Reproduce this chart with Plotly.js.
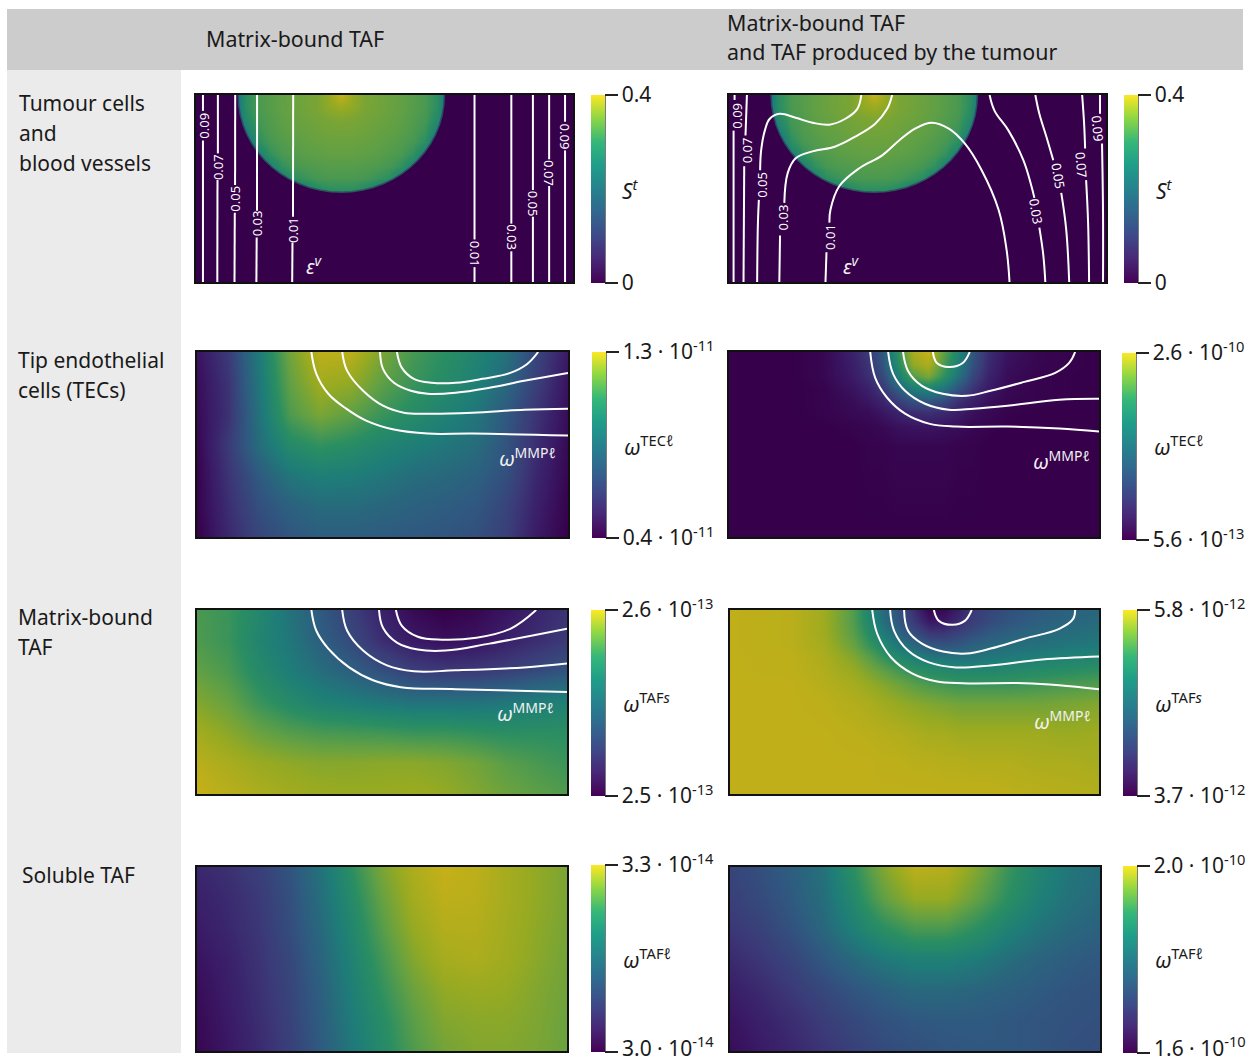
<!DOCTYPE html>
<html><head><meta charset="utf-8">
<script src="https://cdn.plot.ly/plotly-3.0.0.min.js"></script>
<style>html,body{margin:0;padding:0;background:#fff}#chart{width:1257px;height:1063px}</style>
</head><body><div id="chart"></div>
<script>
// ---------- field values (position on the colour scale, 0-100) ----------
const tumourX = [2,14,26,38,50,62,74,86,98,110,122,134,146,158,170,182,194,206,218,230,242,254,266,278,290,302,314,326,338,350,362,374];
const tumourY = [0,12,24,36,48,60,72,84,96,108,190];
const tumourZ = [
 [0,0,10,32,58,66,69,72,74,76,78,85,100,85,78,76,74,72,69,66,58,32,10,0,0,0,0,0,0,0,0,0],
 [0,0,10,32,58,66,69,72,74,76,78,83,86,83,78,76,74,72,69,66,58,32,10,0,0,0,0,0,0,0,0,0],
 [0,0,10,30,54,65,68,71,73,75,76,78,79,78,76,75,73,71,68,65,54,30,10,0,0,0,0,0,0,0,0,0],
 [0,0,10,26,46,62,67,70,72,73,75,76,76,76,75,73,72,70,67,62,46,26,10,0,0,0,0,0,0,0,0,0],
 [0,0,10,20,34,58,65,68,70,72,73,74,74,74,73,72,70,68,65,58,34,20,10,0,0,0,0,0,0,0,0,0],
 [0,0,10,10,24,46,60,66,68,70,71,72,72,72,71,70,68,66,60,46,24,10,10,0,0,0,0,0,0,0,0,0],
 [0,0,10,10,10,28,48,60,65,67,68,69,69,69,68,67,65,60,48,28,10,10,10,0,0,0,0,0,0,0,0,0],
 [0,0,10,10,10,10,28,46,58,62,65,66,66,66,65,62,58,46,28,10,10,10,10,0,0,0,0,0,0,0,0,0],
 [0,0,10,10,10,10,10,24,34,46,54,58,58,58,54,46,34,24,10,10,10,10,10,0,0,0,0,0,0,0,0,0],
 [0,0,10,10,10,10,10,10,20,26,30,32,32,32,30,26,20,10,10,10,10,10,10,0,0,0,0,0,0,0,0,0],
 [0,0,0,0,0,0,0,0,0,0,0,0,0,0,0,0,0,0,0,0,0,0,0,0,0,0,0,0,0,0,0,0]];
// dark region around the tumour: its boundary
const outsideTumourX = [0,0,379,379,250.5,249.9,248.2,245.4,241.5,236.5,230.5,223.7,215.9,207.4,198.3,188.5,178.3,167.7,156.9,146,135.1,124.3,113.7,103.5,93.7,84.6,76.1,68.3,61.5,55.5,50.5,46.6,43.8,42.1,41.5,0];
const outsideTumourY = [0,189,189,0,0,10.3,20.6,30.6,40.3,49.5,58.2,66.2,73.6,80.1,85.7,90.4,94.2,96.8,98.5,99,98.5,96.8,94.2,90.4,85.7,80.1,73.6,66.2,58.2,49.5,40.3,30.6,20.6,10.3,0,0];

const coarseX = [0,31,62,93,124,155,186,217,248,279,310,341,372];
const coarseY = [0,31,62,93,124,155,187];
const tecLeftZ = [
 [6,18,44,76,97,96,78,65,58,50,40,22,8],
 [4,16,42,72,88,84,71,62,55,47,36,20,6],
 [3,15,40,67,78,71,62,55,48,42,30,16,4],
 [2,18,38,54,60,56,50,46,42,38,28,14,3],
 [1,16,30,42,46,45,42,38,36,33,26,12,2],
 [1,14,26,33,37,37,35,33,31,29,22,10,1],
 [0,12,22,28,31,31,30,29,28,26,20,8,0]];
const fineX = [0,62,93,124,140,155,170,185,200,215,230,245,260,280,310,372];
const fineY = [0,12,24,36,48,60,75,95,187];
const tecRightZ = [
 [0,0,2,10,18,30,60,90,100,72,50,28,14,6,2,0],
 [0,0,2,9,16,28,55,84,92,68,46,26,13,5,2,0],
 [0,0,2,8,14,24,46,68,78,60,40,22,11,4,1,0],
 [0,0,1,6,10,18,32,46,50,42,28,16,8,3,1,0],
 [0,0,1,4,7,12,20,28,30,26,16,10,5,2,1,0],
 [0,0,1,3,4,7,11,14,15,13,9,5,3,1,0,0],
 [0,0,0,1,2,3,5,6,6,5,4,2,1,0,0,0],
 [0,0,0,0,1,1,2,2,2,2,1,1,0,0,0,0],
 [0,0,0,0,0,0,0,0,0,0,0,0,0,0,0,0]];
const tafsLeftZ = [
 [66,62,52,40,30,20,10,3,0,2,6,11,16],
 [67,62,50,42,32,24,14,8,5,6,10,14,18],
 [72,66,54,45,38,32,26,20,18,18,20,24,28],
 [80,73,62,54,48,45,42,40,40,40,42,45,47],
 [89,82,74,69,66,65,64,62,62,60,58,58,58],
 [96,91,86,83,81,81,82,82,80,76,70,66,62],
 [100,96,92,89,87,86,86,87,85,80,75,71,68]];
const tafsRightX = [0,62,93,124,140,155,170,185,200,215,230,245,260,280,310,340,372];
const tafsRightY = [0,12,24,36,48,60,75,95,125,155,187];
const tafsRightZ = [
 [98,96,88,68,50,36,26,14,2,3,10,18,22,26,30,33,35],
 [98,96,88,68,52,38,28,18,8,8,14,20,24,28,32,35,37],
 [98,96,88,70,56,44,34,26,18,18,22,26,30,33,36,38,40],
 [98,96,90,74,62,52,42,36,30,28,30,34,36,38,40,42,44],
 [98,97,92,80,70,60,52,46,42,40,40,40,42,44,46,48,50],
 [98,97,93,85,77,70,63,58,54,52,50,50,50,52,54,56,58],
 [98,98,95,90,85,80,75,70,66,64,62,62,62,62,64,66,68],
 [98,98,97,94,92,88,85,82,80,78,76,76,76,76,76,78,80],
 [98,98,98,97,96,95,94,92,90,90,88,88,88,88,88,86,88],
 [98,98,98,98,98,97,97,96,96,95,95,94,94,94,92,92,90],
 [98,98,98,98,98,98,98,98,98,98,98,98,98,97,96,95,94]];
const taflLeftZ = [
 [12,15,20,28,40,58,78,92,100,97,90,84,78],
 [10,13,18,26,38,54,73,89,97,96,90,84,78],
 [8,12,17,25,36,51,69,85,94,94,89,83,77],
 [6,10,16,23,34,48,64,80,90,92,88,82,76],
 [4,9,15,22,32,46,60,74,84,86,85,80,75],
 [3,8,14,21,31,44,56,70,80,82,82,79,74],
 [2,7,13,20,30,42,54,67,76,80,80,78,74]];
const taflRightZ = [
 [22,26,32,40,58,80,97,95,80,62,50,42,38],
 [20,24,30,38,53,72,85,85,72,58,47,40,36],
 [17,21,27,35,47,58,66,66,58,48,41,36,33],
 [13,17,22,29,36,43,47,47,44,38,34,31,29],
 [9,13,18,23,28,32,36,36,34,32,30,28,27],
 [6,10,14,19,23,27,29,30,30,29,28,27,26],
 [4,8,12,16,20,24,26,28,29,29,28,26,25]];

// ---------- white level curves [x values, y values] ----------
const epsLeftLines = [
 [[7,7,null,7,7],[0,16,null,46,189]],
 [[22,22,null,21.6,21.4],[0,59,null,86,189]],
 [[39.4,39.3,null,39,38.7],[0,91,null,119,189]],
 [[61.4,61.3,null,61,60.7],[0,117,null,144,189]],
 [[97.7,97.5,null,97,96.7],[0,123,null,149,189]],
 [[280,280,null,280,280],[0,146,null,174,189]],
 [[317,317,null,317,317],[0,130,null,158,189]],
 [[338.7,338.7,null,338.7,338.7],[0,96,null,123,189]],
 [[355,355,null,355,355],[0,65,null,92,189]],
 [[371,371,null,371,371],[0,27,null,56,189]]];
const epsLeftLabels = [["0.09",8,31,-90],["0.07",22,73,-90],["0.05",39,105,-90],["0.03",61,130,-90],["0.01",97,136,-90],
 ["0.01",280,160,90],["0.03",317,144,90],["0.05",339,110,90],["0.07",355,79,90],["0.09",371,42,90]];
const epsRightLines = [
 [[5.6,5.6,null,4.6,4.6],[0,5,null,36,189]],
 [[18,16.6,null,15.3,14.6],[0,41,null,72,189]],
 [[133,129,117,101,84,67,51,41,36,32.3,31.3,null,30,29,28.3],[0,14,24,30,28,23,19,24,36,56,76,null,106,132,189]],
 [[164,159,147,127,107,84,67,59,55.6,null,51.3,50.6],[0,14,29,42,52,57,64,79,109,null,142,189]],
 [[282,279,271,254,237,221,204,187,171,154,131,111,102,101,null,98,97],[189,156,116,76,49,34,28,34,46,61,74,92,116,129,null,159,189]],
 [[262,267,281,296,304,307,null,312,316,318],[0,16,36,66,92,104,null,134,162,189]],
 [[308,312,319,326,null,334,339,342],[0,19,42,66,null,99,136,189]],
 [[355,357,358,null,359,361,362],[0,29,54,null,86,129,189]],
 [[373,373,null,375,376,376],[0,19,null,49,119,189]]];
const epsRightLabels = [["0.09",8,21,-90],["0.07",18,56,-90],["0.05",33,91,-90],["0.03",54,124,-90],["0.01",102,143,-90],
 ["0.03",309,118,80],["0.05",331,82,80],["0.07",354,71,85],["0.09",371,34,85]];
const mmpTecLeft = [
 [[115,120,132,150,170,198,232,277,373],[0,22,42,57,69,78,82,82,84]],
 [[146,151,167,187,208,232,277,329,373],[0,19,39,54,61,62,61,58,57]],
 [[184,187,198,215,232,260,294,329,373],[0,17,31,39,42,41,36,29,21]],
 [[201,206,218,236,260,287,315,332,343],[0,16,27,31,31,27,21,12,0]]];
const mmpTecRight = [
 [[142,147,159,177,201,228,280,332,372],[0,26,46,62,72,75,75,77,80]],
 [[160,165,177,197,221,246,280,332,372],[0,22,39,52,58,57,54,48,47]],
 [[175,180,194,215,239,263,297,328,342,348],[0,19,34,42,44,39,30,21,11,0]],
 [[205,209,221,235,242],[0,11,15,11,0]]];
const mmpTafsLeft = [
 [[115,120,132,153,177,205,260,372],[0,21,39,58,71,78,80,83]],
 [[146,151,167,191,218,260,329,372],[0,21,41,56,62,61,58,54]],
 [[183,187,201,222,250,294,372],[0,18,33,40,41,34,19]],
 [[200,206,222,246,281,315,341],[0,16,27,30,28,19,0]]];
const mmpTafsRight = [
 [[143,148,162,183,207,234,296,331,371],[0,24,48,64,72,74,74,76,80]],
 [[161,165,179,200,227,262,314,371],[0,21,41,53,58,56,50,47]],
 [[175,179,193,214,238,262,296,331,345,347],[0,21,34,42,44,39,29,19,9,0]],
 [[205,210,224,236,243],[0,11,15,11,0]]];

// ---------- texts ----------
const rowLabels = [["Tumour cells",17,103],["and",17,133],["blood vessels",17,163],["Tip endothelial",16,360],["cells (TECs)",16,390],
 ["Matrix-bound",16,617],["TAF",16,647],["Soluble TAF",20,875]];
const columnHeaders = [["Matrix-bound TAF",204,39],["Matrix-bound TAF",725,22],["and TAF produced by the tumour",725,52]];
const scaleTicks = [["0","0.4"],["0","0.4"],
 ["0.4 · 10<sup>-11</sup>","1.3 · 10<sup>-11</sup>"],["5.6 · 10<sup>-13</sup>","2.6 · 10<sup>-10</sup>"],
 ["2.5 · 10<sup>-13</sup>","2.6 · 10<sup>-13</sup>"],["3.7 · 10<sup>-12</sup>","5.8 · 10<sup>-12</sup>"],
 ["3.0 · 10<sup>-14</sup>","3.3 · 10<sup>-14</sup>"],["1.6 · 10<sup>-10</sup>","2.0 · 10<sup>-10</sup>"]];
const scaleTitles = ["<i>S<sup>t</sup></i>","<i>S<sup>t</sup></i>",
 "<i>ω</i><sup>TEC<i>ℓ</i></sup>","<i>ω</i><sup>TEC<i>ℓ</i></sup>",
 "<i>ω</i><sup>TAF<i>s</i></sup>","<i>ω</i><sup>TAF<i>s</i></sup>",
 "<i>ω</i><sup>TAF<i>ℓ</i></sup>","<i>ω</i><sup>TAF<i>ℓ</i></sup>"];
const mmpText = "<i>ω</i><sup>MMP<i>ℓ</i></sup>";
const epsText = "<i>ε<sup>v</sup></i>";

// ---------- colours ----------
const fieldScale = [[0,"#36004a"],[0.08,"#3a1a66"],[0.18,"#3b3a78"],[0.3,"#2f5a80"],[0.45,"#1e7d78"],[0.58,"#2a8e62"],[0.72,"#62a044"],[0.85,"#96aa22"],[1,"#c6b018"]];
const barScale = [[0,"#440154"],[0.13,"#482878"],[0.25,"#3e4989"],[0.38,"#31688e"],[0.5,"#26828e"],[0.63,"#1f9e89"],[0.75,"#35b779"],[0.88,"#90d743"],[1,"#fde725"]];

// ---------- panel layout (pixels in the 1257x1063 frame) ----------
const W = 1257, H = 1063;
const panels = [
 {l:196,t:95,w:377,h:187,xr:379,yr:189,x:tumourX,y:tumourY,z:tumourZ,mask:true,lines:epsLeftLines,labels:epsLeftLabels,bar:[591,95,188],bt:[620,190],tag:[epsText,314,265]},
 {l:729,t:95,w:377,h:187,xr:379,yr:189,x:tumourX,y:tumourY,z:tumourZ,mask:true,lines:epsRightLines,labels:epsRightLabels,bar:[1124,95,188],bt:[1154,190],tag:[epsText,851,265]},
 {l:197,t:352,w:371,h:185,xr:373,yr:186,x:coarseX,y:coarseY,z:tecLeftZ,lines:mmpTecLeft,bar:[592,352,186],bt:[622,445],tag:[mmpText,527,457]},
 {l:729,t:352,w:370,h:185,xr:372,yr:186,x:fineX,y:fineY,z:tecRightZ,lines:mmpTecRight,bar:[1122,353,187],bt:[1152,445],tag:[mmpText,1061,460]},
 {l:197,t:610,w:370,h:184,xr:372,yr:186,x:coarseX,y:coarseY,z:tafsLeftZ,lines:mmpTafsLeft,bar:[591,610,186],bt:[621,702],tag:[mmpText,525,712]},
 {l:730,t:610,w:369,h:184,xr:371,yr:186,x:tafsRightX,y:tafsRightY,z:tafsRightZ,lines:mmpTafsRight,bar:[1123,610,186],bt:[1153,702],tag:[mmpText,1062,720]},
 {l:197,t:867,w:370,h:184,xr:372,yr:186,x:coarseX,y:coarseY,z:taflLeftZ,lines:[],bar:[591,865,187],bt:[621,958],tag:null,lowTick:[620,1046]},
 {l:730,t:867,w:370,h:184,xr:372,yr:186,x:coarseX,y:coarseY,z:taflRightZ,lines:[],bar:[1123,866,187],bt:[1153,958],tag:null,lowTick:[1152,1046]}
];
const px = v => v / W, py = v => 1 - v / H;
const fontName = '"Noto Sans", sans-serif';

const traces = [], annotations = [];
const shapes = [
 {type:"rect",xref:"paper",yref:"paper",layer:"below",x0:px(7),x1:px(1243),y0:py(9),y1:py(70),fillcolor:"#cccccc",line:{width:0}},
 {type:"rect",xref:"paper",yref:"paper",layer:"below",x0:px(7),x1:px(181),y0:py(70),y1:py(1053),fillcolor:"#ebebeb",line:{width:0}}
];
const layout = {width:W,height:H,margin:{l:0,r:0,t:0,b:0,autoexpand:false},paper_bgcolor:"#fff",plot_bgcolor:"#fff",showlegend:false,font:{family:fontName,color:"#1a1a1a"}};

panels.forEach((p,i) => {
  const n = i === 0 ? "" : String(i+1);
  const xa = "x"+n, ya = "y"+n;
  const axis = {showgrid:false,zeroline:false,showticklabels:false,ticks:"",showline:true,mirror:true,linecolor:"#111",linewidth:2};
  layout["xaxis"+n] = Object.assign({},axis,{domain:[px(p.l),px(p.l+p.w)],range:[0,p.xr],anchor:ya});
  layout["yaxis"+n] = Object.assign({},axis,{domain:[py(p.t+p.h),py(p.t)],range:[p.yr,0],anchor:xa});
  traces.push({type:"heatmap",x:p.x,y:p.y,z:p.z,xaxis:xa,yaxis:ya,zmin:0,zmax:100,zsmooth:"best",colorscale:fieldScale,showscale:false,hoverinfo:"skip"});
  if(p.mask) traces.push({type:"scatter",mode:"lines",x:outsideTumourX,y:outsideTumourY,xaxis:xa,yaxis:ya,fill:"toself",fillcolor:"#36004a",line:{color:"rgba(54,0,74,0.4)",width:3},hoverinfo:"skip"});
  (p.lines||[]).forEach(c => traces.push({type:"scatter",mode:"lines",x:c[0],y:c[1],xaxis:xa,yaxis:ya,line:{color:"#ffffff",width:2,shape:"spline",smoothing:1.1},connectgaps:false,hoverinfo:"skip"}));
  (p.labels||[]).forEach(a => annotations.push({xref:xa,yref:ya,x:a[1],y:a[2],text:a[0],textangle:a[3],showarrow:false,font:{size:13,color:"#fff",family:fontName},xanchor:"center",yanchor:"middle"}));
  // colour bar, carried by one point that lies outside the axis range
  const tickText = p.lowTick ? ["",scaleTicks[i][1]] : scaleTicks[i];
  traces.push({type:"scatter",mode:"markers",x:[-1000],y:[-1000],xaxis:xa,yaxis:ya,hoverinfo:"skip",
    marker:{color:[0.5],cmin:0,cmax:1,colorscale:barScale,opacity:0,showscale:true,
      colorbar:{x:px(p.bar[0]),xanchor:"left",y:py(p.bar[1]+p.bar[2]),yanchor:"bottom",len:p.bar[2]/H,lenmode:"fraction",thickness:14,thicknessmode:"pixels",
        xpad:0,ypad:0,outlinewidth:0,borderwidth:0,tickmode:"array",tickvals:[0,1],ticktext:tickText,ticks:"outside",ticklen:13,tickwidth:1.2,tickcolor:"#222",
        tickfont:{size:21,family:fontName,color:"#1a1a1a"}}}});
  if(p.lowTick) annotations.push({xref:"paper",yref:"paper",x:px(p.lowTick[0]),y:py(p.lowTick[1]),text:scaleTicks[i][0],showarrow:false,xanchor:"left",yanchor:"middle",font:{size:21,family:fontName,color:"#1a1a1a"}});
  shapes.push({type:"line",xref:"paper",yref:"paper",x0:px(p.bar[0]+14),x1:px(p.bar[0]+14),y0:py(p.bar[1]),y1:py(p.bar[1]+p.bar[2]),line:{color:"#222",width:1.2}});
  annotations.push({xref:"paper",yref:"paper",x:px(p.bt[0]),y:py(p.bt[1]),text:scaleTitles[i],showarrow:false,xanchor:"left",yanchor:"middle",font:{size:21,family:fontName,color:"#1a1a1a"}});
  if(p.tag) annotations.push({xref:"paper",yref:"paper",x:px(p.tag[1]),y:py(p.tag[2]),text:p.tag[0],showarrow:false,xanchor:"center",yanchor:"middle",font:{size:20,color:"#f2f2f2",family:fontName}});
});
rowLabels.forEach(t => annotations.push({xref:"paper",yref:"paper",x:px(t[1]),y:py(t[2]),text:t[0],showarrow:false,xanchor:"left",yanchor:"middle",font:{size:21,family:fontName,color:"#1a1a1a"}}));
columnHeaders.forEach(t => annotations.push({xref:"paper",yref:"paper",x:px(t[1]),y:py(t[2]),text:t[0],showarrow:false,xanchor:"left",yanchor:"middle",font:{size:21.4,family:fontName,color:"#1a1a1a"}}));
layout.annotations = annotations;
layout.shapes = shapes;
Plotly.newPlot("chart",traces,layout,{displayModeBar:false,staticPlot:true});
</script></body></html>
